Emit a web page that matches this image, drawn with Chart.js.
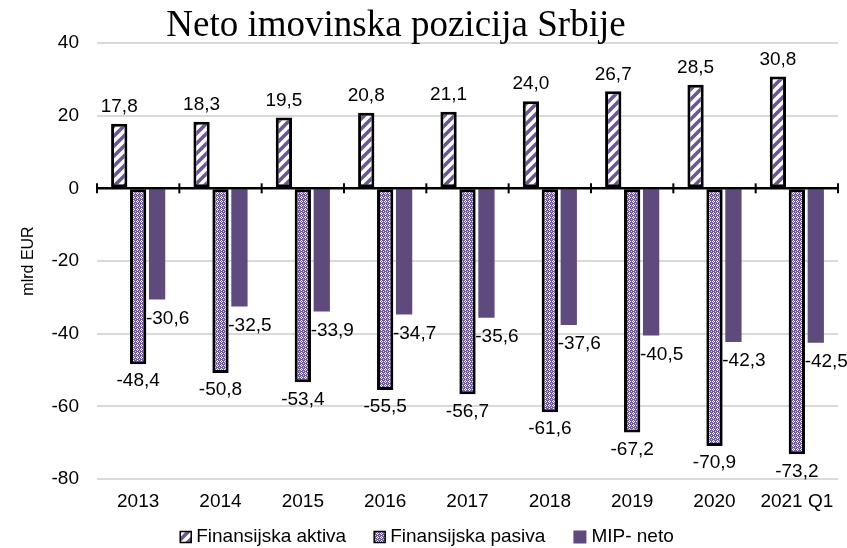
<!DOCTYPE html>
<html>
<head>
  <meta charset="UTF-8">
  <title>Neto imovinska pozicija Srbije</title>
  <script src="https://cdn.jsdelivr.net/npm/chart.js"></script>
  <style>
    html, body { margin: 0; padding: 0; background: #fff; }
    #wrap { width: 847px; height: 548px; }
  </style>
</head>
<body>
  <div id="wrap"><canvas id="grafik" width="847" height="548"></canvas></div>

  <script>
    // podaci (mlrd EUR)
    const godine = ['2013', '2014', '2015', '2016', '2017', '2018', '2019', '2020', '2021 Q1'];
    const aktiva = [17.8, 18.3, 19.5, 20.8, 21.1, 24.0, 26.7, 28.5, 30.8];
    const pasiva = [-48.4, -50.8, -53.4, -55.5, -56.7, -61.6, -67.2, -70.9, -73.2];
    const mipNeto = [-30.6, -32.5, -33.9, -34.7, -35.6, -37.6, -40.5, -42.3, -42.5];
    const yTicks = [40, 20, 0, -20, -40, -60, -80];

    const naslov = 'Neto imovinska pozicija Srbije';
    const font = "'Liberation Sans', Arial, sans-serif";

    // sare za stubove
    function prugice() {
      const c = document.createElement('canvas');
      c.width = 10; c.height = 10;
      const g = c.getContext('2d');
      g.fillStyle = '#fff';
      g.fillRect(0, 0, 10, 10);
      g.strokeStyle = '#6c5791';
      g.lineWidth = 3.6;
      g.beginPath();
      g.moveTo(-5, 5); g.lineTo(5, -5);
      g.moveTo(-5, 15); g.lineTo(15, -5);
      g.moveTo(5, 15); g.lineTo(15, 5);
      g.stroke();
      return g.createPattern(c, 'repeat');
    }

    function mrezica() {
      const c = document.createElement('canvas');
      c.width = 4; c.height = 4;
      const g = c.getContext('2d');
      g.fillStyle = '#6f5b95';
      g.fillRect(0, 0, 4, 4);
      g.fillStyle = '#ffffff';
      g.fillRect(1, 0, 1, 1);
      g.fillRect(0, 1, 1, 1);
      g.fillRect(2, 1, 1, 1);
      g.fillRect(1, 2, 1, 1);
      g.fillStyle = '#d6cce6';
      g.fillRect(3, 3, 1, 1);
      return g.createPattern(c, 'repeat');
    }

    const fmt = v => v.toFixed(1).replace('.', ',');

    // naslov, nulta osa sa podeocima, vrednosti na stubovima i legenda
    const dodaci = {
      id: 'dodaci',
      afterDatasetsDraw(chart) {
        const ctx = chart.ctx;
        const x = chart.scales.x;
        const y = chart.scales.y;
        const a = chart.chartArea;
        const y0 = y.getPixelForValue(0);

        ctx.save();
        ctx.strokeStyle = '#000';
        ctx.lineWidth = 2.5;
        ctx.beginPath();
        ctx.moveTo(a.left, y0);
        ctx.lineTo(a.right, y0);
        ctx.stroke();
        ctx.lineWidth = 2;
        for (let i = 0; i <= godine.length; i++) {
          const px = x.getPixelForValue(i - 0.5);
          ctx.beginPath();
          ctx.moveTo(px, y0 - 5);
          ctx.lineTo(px, y0 + 5);
          ctx.stroke();
        }

        ctx.fillStyle = '#000';
        ctx.font = '19px ' + font;
        ctx.textBaseline = 'middle';
        chart.getDatasetMeta(0).data.forEach((b, i) => {
          ctx.textAlign = 'center';
          ctx.fillText(fmt(aktiva[i]), b.x, b.y - 17);
        });
        chart.getDatasetMeta(1).data.forEach((b, i) => {
          ctx.textAlign = 'center';
          ctx.fillText(fmt(pasiva[i]), b.x, b.y + 17);
        });
        chart.getDatasetMeta(2).data.forEach((b, i) => {
          ctx.textAlign = 'left';
          ctx.fillText(fmt(mipNeto[i]), b.x - b.width / 2 - 3, b.y + 19);
        });

        // legenda
        const ds = chart.data.datasets;
        ctx.font = '19px ' + font;
        const sirine = ds.map(d => ctx.measureText(d.label).width);
        const kutija = [11, 11, 13];
        const razmak = 5, izmedju = 28;
        let ukupno = 0;
        ds.forEach((d, i) => { ukupno += kutija[i] + razmak + sirine[i]; });
        ukupno += izmedju * (ds.length - 1);
        let lx = 427 - ukupno / 2;
        const ly = 537;
        ds.forEach((d, i) => {
          const k = kutija[i];
          ctx.fillStyle = d.backgroundColor;
          ctx.fillRect(lx, ly - k / 2, k, k);
          if (d.borderWidth) {
            ctx.strokeStyle = '#000';
            ctx.lineWidth = 1.5;
            ctx.strokeRect(lx, ly - k / 2, k, k);
          }
          lx += k + razmak;
          ctx.fillStyle = '#000';
          ctx.textAlign = 'left';
          ctx.fillText(d.label, lx, ly);
          lx += sirine[i] + izmedju;
        });

        ctx.font = "37px 'Liberation Serif', 'Times New Roman', serif";
        ctx.textAlign = 'center';
        ctx.textBaseline = 'alphabetic';
        ctx.fillText(naslov, 396, 36);
        ctx.restore();
      }
    };

    const ctx = document.getElementById('grafik').getContext('2d');
    new Chart(ctx, {
      type: 'bar',
      data: {
        labels: godine,
        datasets: [
          {
            label: 'Finansijska aktiva',
            data: aktiva,
            backgroundColor: prugice(),
            borderColor: '#000',
            borderWidth: 3,
            borderSkipped: false
          },
          {
            label: 'Finansijska pasiva',
            data: pasiva,
            backgroundColor: mrezica(),
            borderColor: '#000',
            borderWidth: 3,
            borderSkipped: false
          },
          {
            label: 'MIP- neto',
            data: mipNeto,
            backgroundColor: '#5f4a7d',
            borderWidth: 0
          }
        ]
      },
      options: {
        responsive: false,
        animation: false,
        categoryPercentage: 0.69,
        barPercentage: 0.86,
        layout: { padding: { top: 43, right: 9, left: 0, bottom: 37 } },
        plugins: {
          legend: { display: false },
          tooltip: { enabled: false }
        },
        scales: {
          x: {
            grid: { display: false, drawTicks: false },
            border: { display: false },
            afterFit(s) { s.height = 32; },
            ticks: { color: '#000', font: { family: font, size: 19 }, padding: 11, maxRotation: 0 }
          },
          y: {
            min: -80,
            max: 40,
            afterBuildTicks(s) { s.ticks = yTicks.map(v => ({ value: v })); },
            afterFit(s) { s.width = 97; },
            grid: { color: '#d9d9d9', lineWidth: 2, drawTicks: false },
            border: { display: false },
            ticks: { color: '#000', font: { family: font, size: 19 }, padding: 18 },
            title: {
              display: true,
              text: 'mlrd EUR',
              color: '#000',
              font: { family: font, size: 16 },
              padding: { top: 19, bottom: 0 }
            }
          }
        }
      },
      plugins: [dodaci]
    });
  </script>
</body>
</html>
